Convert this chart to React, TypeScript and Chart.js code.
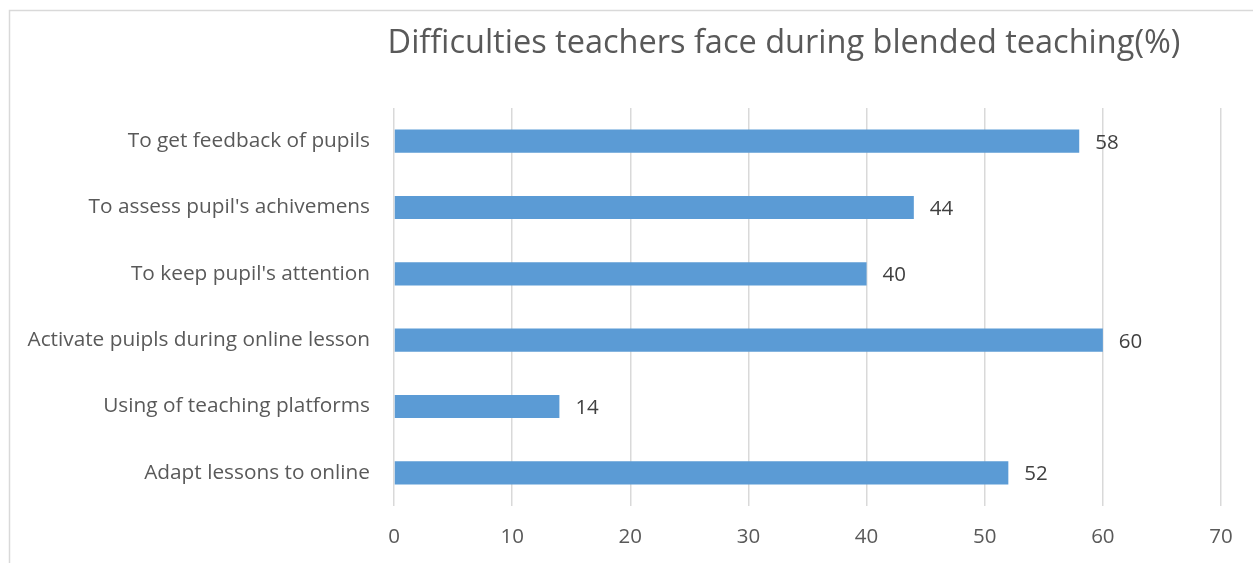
import React, { useEffect, useRef } from "react";
import { Chart, registerables } from "chart.js";

Chart.register(...registerables);

const TITLE = "Difficulties teachers face during blended teaching(%)";
const categories = [
  "To get feedback of pupils",
  "To assess pupil's achivemens",
  "To keep pupil's attention",
  "Activate puipls during online lesson",
  "Using of teaching platforms",
  "Adapt lessons to online",
];
const values = [58, 44, 40, 60, 14, 52];
const xTicks = [0, 10, 20, 30, 40, 50, 60, 70];

const FONT = "'Open Sans', 'Noto Sans', sans-serif";

const framePlugin = {
  id: "frame",
  beforeDraw(chart: any) {
    const ctx = chart.ctx;
    ctx.save();
    ctx.fillStyle = "#ffffff";
    ctx.fillRect(0, 0, chart.width, chart.height);
    ctx.strokeStyle = "#D9D9D9";
    ctx.lineWidth = 1.5;
    ctx.beginPath();
    ctx.moveTo(9.5, chart.height + 5);
    ctx.lineTo(9.5, 10.5);
    ctx.lineTo(chart.width + 5, 10.5);
    ctx.stroke();
    ctx.restore();
  },
  afterDraw(chart: any) {
    const ctx = chart.ctx;
    ctx.save();
    ctx.fillStyle = "#595959";
    ctx.font = `32.5px ${FONT}`;
    ctx.textAlign = "center";
    ctx.textBaseline = "alphabetic";
    ctx.fillText(TITLE, 784, 53);
    ctx.restore();
  },
};

const valueLabels = {
  id: "valueLabels",
  afterDatasetsDraw(chart: any) {
    const ctx = chart.ctx;
    const meta = chart.getDatasetMeta(0);
    ctx.save();
    ctx.fillStyle = "#404040";
    ctx.font = `20.5px ${FONT}`;
    ctx.textAlign = "left";
    ctx.textBaseline = "middle";
    meta.data.forEach((bar: any, i: number) => {
      ctx.fillText(String(chart.data.datasets[0].data[i]), bar.x + 16, bar.y + 1.5);
    });
    ctx.restore();
  },
};

export default function App() {
  const ref = useRef<HTMLCanvasElement>(null);
  useEffect(() => {
    if (!ref.current) return;
    const chart = new Chart(ref.current, {
      type: "bar",
      data: {
        labels: categories,
        datasets: [
          {
            data: values,
            backgroundColor: "#5B9BD5",
            borderWidth: 0,
            categoryPercentage: 1,
            barPercentage: 0.35,
          },
        ],
      },
      options: {
        indexAxis: "y",
        animation: false,
        responsive: false,
        maintainAspectRatio: false,
        layout: { padding: { left: 0, right: 32, top: 108, bottom: 0 } },
        plugins: {
          legend: { display: false },
          title: { display: false },
          tooltip: { enabled: false },
        },
        scales: {
          x: {
            min: 0,
            max: 70,
            afterBuildTicks(scale: any) {
              scale.ticks = xTicks.map((v) => ({ value: v }));
            },
            afterFit(scale: any) {
              scale.height = 57;
            },
            grid: { color: "#D9D9D9", lineWidth: 1.5, drawTicks: false },
            border: { display: false },
            ticks: {
              color: "#595959",
              font: { family: FONT, size: 20.5 },
              padding: 19,
            },
          },
          y: {
            afterFit(scale: any) {
              scale.width = 394;
            },
            grid: { display: false, drawTicks: false },
            border: { display: false },
            ticks: {
              color: "#595959",
              font: { family: FONT, size: 20.8 },
              padding: 24,
            },
          },
        },
      },
      plugins: [framePlugin, valueLabels],
    });
    return () => chart.destroy();
  }, []);
  return (
    <div style={{ position: "fixed", left: 0, top: 0, width: 1253, height: 563, background: "#fff" }}>
      <canvas ref={ref} width={1253} height={563} style={{ display: "block" }} />
    </div>
  );
}
